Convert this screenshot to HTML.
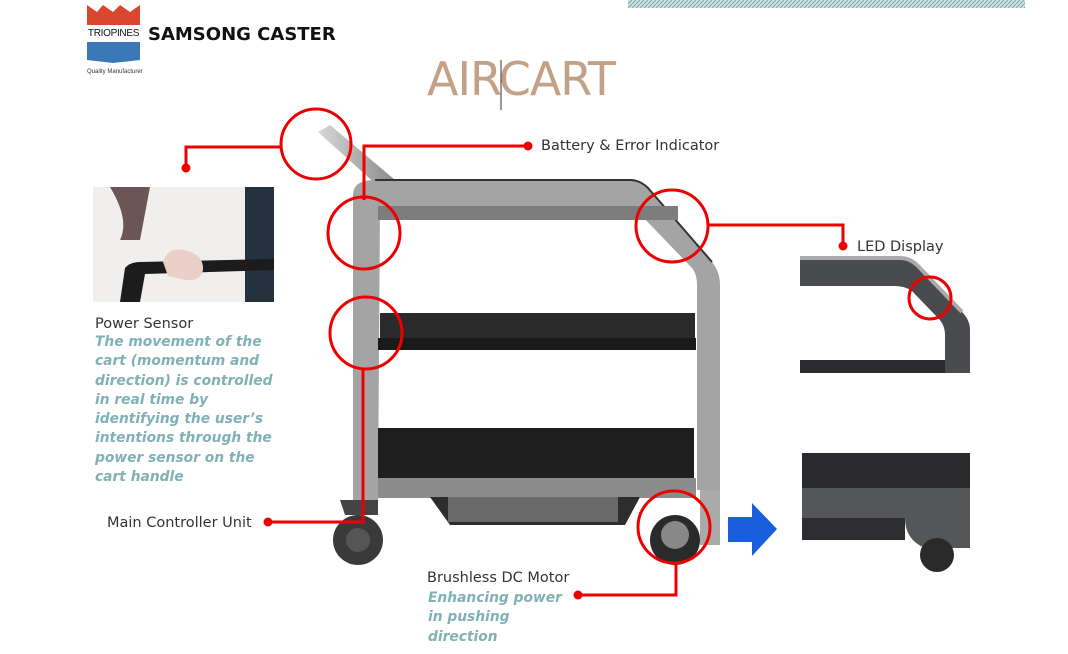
<!DOCTYPE html>
<html><head><meta charset="utf-8"><style>
body{margin:0;width:1068px;height:654px;background:#fff;position:relative;overflow:hidden;font-family:"DejaVu Sans","Liberation Sans",sans-serif}
.t{position:absolute;white-space:nowrap;color:#333;font-size:14.5px}
.it{position:absolute;color:#7fb1b6;font-weight:bold;font-style:italic;font-size:13.8px;line-height:19.3px;white-space:nowrap}
</style></head><body>
<svg width="1068" height="654" style="position:absolute;left:0;top:0">
<defs>
<pattern id="h" width="4" height="4" patternUnits="userSpaceOnUse"><rect width="4" height="4" fill="#cfe0e0"/><path d="M0 4L4 0" stroke="#7aa" stroke-width="1"/></pattern>
<linearGradient id="g" x1="0" x2="1"><stop offset="0" stop-color="#d8d8d8"/><stop offset="1" stop-color="#8a8a8a"/></linearGradient>
</defs>
<rect x="628" y="0" width="397" height="8" fill="url(#h)"/>
<path d="M87 5 L97 12 L103 5 L113 12 L120 5 L130 12 L140 5 L140 25 L87 25Z" fill="#d9472f"/>
<path d="M87 42 L140 42 L140 60 L113 63 L87 60Z" fill="#3a78b8"/>
<!-- woman photo -->
<rect x="93" y="187" width="181" height="115" fill="#f1efed"/>
<rect x="245" y="187" width="29" height="115" fill="#25323e"/>
<path d="M110 187 Q130 220 120 240 L140 240 L150 187Z" fill="#4a2f2f" opacity="0.8"/>
<path d="M120 302 L125 268 Q130 262 140 262 L274 259 L274 270 L145 274 L140 302Z" fill="#1c1c1c"/>
<path d="M163 262 Q168 246 185 250 Q204 255 203 270 Q200 282 186 280 L168 276Z" fill="#eacfc8"/>
<!-- cart -->
<path d="M318 132 L330 125 L395 180 L378 186Z" fill="url(#g)"/>
<path d="M353 195 Q353 180 375 180 L630 180 Q640 180 648 188 L712 262 Q720 272 720 285 L720 490 L697 490 L697 285 Q697 272 690 266 L640 214 Q632 206 625 206 L380 206 L378 500 L353 500Z" fill="#a4a4a4"/>
<path d="M375 180 L630 180 Q640 180 648 188 L712 262" fill="none" stroke="#333" stroke-width="2"/>
<rect x="378" y="206" width="300" height="14" fill="#7d7d7d"/>
<rect x="380" y="313" width="315" height="25" fill="#2a2a2a"/>
<rect x="378" y="338" width="318" height="12" fill="#1a1a1a"/>
<rect x="378" y="428" width="316" height="52" fill="#1e1e1e"/>
<rect x="378" y="478" width="318" height="20" fill="#8c8c8c"/>
<path d="M430 497 L640 497 L625 525 L450 525Z" fill="#2d2d2d"/>
<rect x="448" y="497" width="170" height="25" fill="#6a6a6a"/>
<path d="M340 500 L378 500 L378 515 L345 515Z" fill="#444"/>
<circle cx="358" cy="540" r="25" fill="#3a3a3a"/><circle cx="358" cy="540" r="12" fill="#555"/>
<circle cx="675" cy="540" r="25" fill="#2a2a2a"/><circle cx="675" cy="535" r="14" fill="#888"/>
<path d="M700 490 L720 490 L720 545 L700 545Z" fill="#aaa"/>
<!-- right images -->
<path d="M800 258 L900 258 Q910 258 918 266 L962 312 Q970 320 970 330 L970 373 L945 373 L945 335 Q945 325 938 318 L912 291 Q905 286 895 286 L800 286Z" fill="#4a4b4e"/>
<path d="M800 258 L900 258 Q910 258 918 266 L962 312" fill="none" stroke="#aaa" stroke-width="4"/>
<rect x="800" y="360" width="145" height="13" fill="#2b2b2d"/>
<rect x="802" y="453" width="168" height="40" fill="#2a2a2c"/>
<rect x="802" y="488" width="168" height="30" fill="#555658"/>
<rect x="802" y="518" width="103" height="22" fill="#2e2e30"/>
<path d="M905 518 L970 518 L970 548 L925 548 Q905 540 905 518Z" fill="#555658"/>
<circle cx="937" cy="555" r="17" fill="#2a2a2a"/>
<path d="M728 517 L752 517 L752 503 L777 529 L752 556 L752 542 L728 542Z" fill="#1a5ee0"/>
<g fill="none" stroke="#e00" stroke-width="3">
<circle cx="316" cy="144" r="35"/><circle cx="364" cy="233" r="36"/><circle cx="366" cy="333" r="36"/>
<circle cx="672" cy="226" r="36"/><circle cx="930" cy="298" r="21"/><circle cx="674" cy="527" r="36"/>
<path d="M282 147 L186 147 L186 168"/>
<path d="M528 146 L364 146 L364 200"/>
<path d="M268 522 L363 522 L363 369"/>
<path d="M708 225 L843 225 L843 246"/>
<path d="M676 563 L676 595 L578 595"/>
</g>
<g fill="#e00"><circle cx="186" cy="168" r="4.5"/><circle cx="528" cy="146" r="4.5"/><circle cx="268" cy="522" r="4.5"/><circle cx="843" cy="246" r="4.5"/><circle cx="578" cy="595" r="4.5"/></g>
<line x1="501" y1="60" x2="501" y2="110" stroke="#333" stroke-width="1"/>
</svg>
<div class="t" style="left:87px;top:26px;font-family:'Liberation Sans Narrow','Liberation Sans',sans-serif;font-size:10px;color:#111;background:#fff;width:53px;text-align:center;height:15px;line-height:15px;letter-spacing:-0.3px">TRIOPINES</div>
<div class="t" style="left:87px;top:69px;font-size:6px;color:#333;font-family:'Liberation Sans',sans-serif">Quality Manufacturer</div>
<div class="t" style="left:148px;top:24px;font-size:18px;font-weight:bold;color:#111;font-family:'DejaVu Sans',sans-serif">SAMSONG CASTER</div>
<div class="t" style="left:427px;top:52px;font-size:46px;color:#c4a086;font-family:'DejaVu Sans',sans-serif;letter-spacing:-1px">AIRCART</div>
<div class="t" style="left:541px;top:138px">Battery &amp; Error Indicator</div>
<div class="t" style="left:857px;top:239px">LED Display</div>
<div class="t" style="left:95px;top:316px">Power Sensor</div>
<div class="it" style="left:95px;top:333px">The movement of the<br>cart (momentum and<br>direction) is controlled<br>in real time by<br>identifying the user’s<br>intentions through the<br>power sensor on the<br>cart handle</div>
<div class="t" style="left:107px;top:515px">Main Controller Unit</div>
<div class="t" style="left:427px;top:570px">Brushless DC Motor</div>
<div class="it" style="left:428px;top:589px">Enhancing power<br>in pushing<br>direction</div>
</body></html>
